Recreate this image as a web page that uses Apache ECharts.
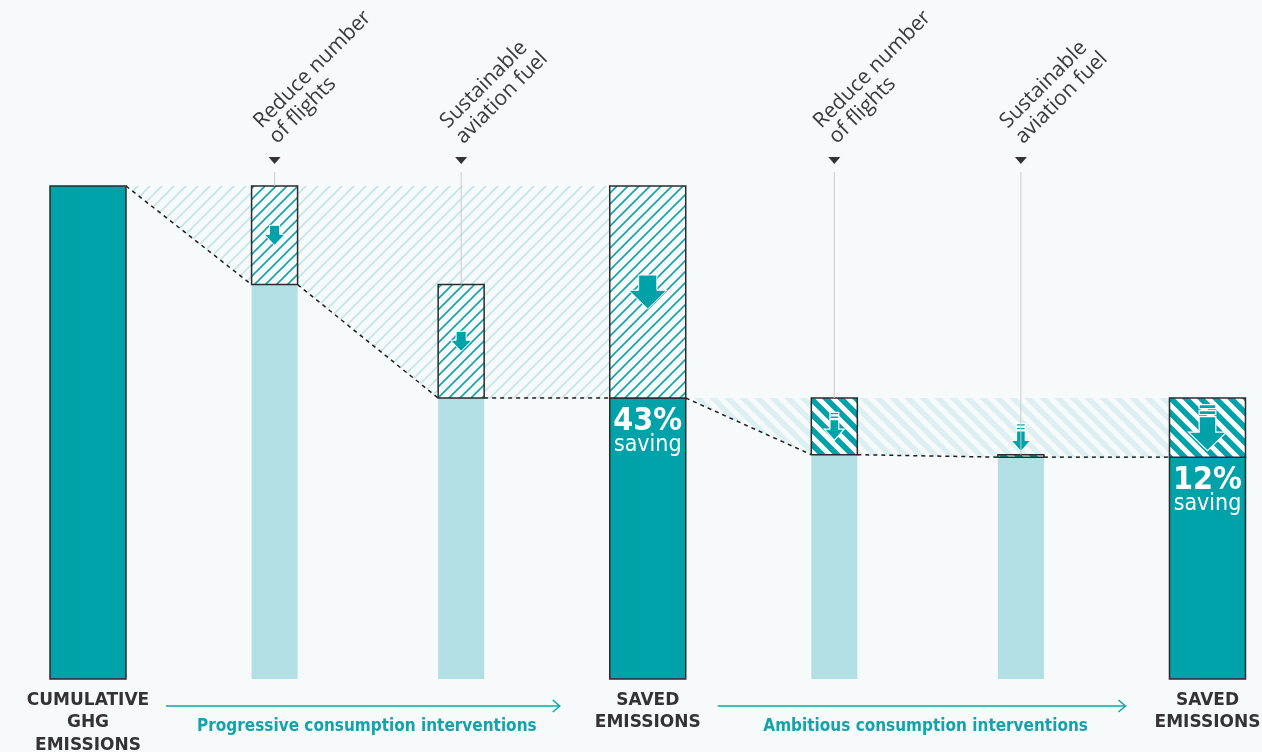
<!DOCTYPE html>
<html>
<head>
<meta charset="utf-8">
<script src="https://cdn.jsdelivr.net/npm/echarts@6/dist/echarts.min.js"></script>
<style>
html,body{margin:0;padding:0;background:#f6fafb;}
#chart{width:1262px;height:752px;}
</style>
</head>
<body>
<div id="chart"></div>
<script>
// ---------------- data ----------------
const bottomLabels = ['CUMULATIVE\nGHG\nEMISSIONS', '', '', 'SAVED\nEMISSIONS', '', '', 'SAVED\nEMISSIONS'];
const topLabels = ['', 'Reduce number\nof flights', 'Sustainable\naviation fuel', '', 'Reduce number\nof flights', 'Sustainable\naviation fuel', ''];
const remaining = [100, 80, 57, 57, 45.5, 45, 45];   // emissions left after each step
const before    = [100, 100, 80, 100, 57, 45.5, 57]; // emissions before each step
const barKinds  = ['total', 'step', 'step', 'total', 'step', 'step', 'total'];
const phaseOf   = [0, 1, 1, 1, 2, 2, 2];
const savingLabels = ['', '', '', '43%', '', '', '12%'];
const savingWord = 'saving';
const phaseLabels = ['Progressive consumption interventions', 'Ambitious consumption interventions'];
const phaseFrom = [0, 3];
const phaseTo   = [3, 6];

// ---------------- styles ----------------
const DARK = '#00a2aa', LIGHT = '#b1dfe3', BORDER = '#2b2b2b', BG = '#f6fafb';
const TEAL_TEXT = '#14a3ab', INK = '#333333';
const HALF = { total: 38, step: 23 };

function makePattern(size, dir, bg, stroke, lw) {
  const c = document.createElement('canvas');
  c.width = size; c.height = size;
  const g = c.getContext('2d');
  if (bg) { g.fillStyle = bg; g.fillRect(0, 0, size, size); }
  g.strokeStyle = stroke; g.lineWidth = lw;
  g.beginPath();
  for (let m = -1; m <= 2; m++) {
    const C = m * size;
    if (dir === '/') { g.moveTo(C + size, -size); g.lineTo(-size, C + size); }
    else { g.moveTo(-size, -size + C); g.lineTo(2 * size, 2 * size + C); }
  }
  g.stroke();
  return { image: c, repeat: 'repeat' };
}
const boxPattern = {
  1: makePattern(11, '/', BG, '#16a3aa', 1.6),
  2: makePattern(15, '\\', DARK, '#ffffff', 5)
};
const regionPattern = {
  0: makePattern(12, '/', null, '#c3e5e8', 1.6),
  1: makePattern(15, '\\', null, '#dcf0f2', 5.5)
};

function solidArrow(cx, top, w, h) {
  const sw = w * 0.24, hy = top + h * 0.45;
  return { type: 'polygon', shape: { points: [[cx - sw, top], [cx + sw, top], [cx + sw, hy], [cx + w / 2, hy], [cx, top + h], [cx - w / 2, hy], [cx - sw, hy]] },
    style: { fill: DARK, stroke: '#ffffff', lineWidth: 1 } };
}
function barredArrow(cx, top, w, h) {
  const sw = w * 0.22, hy = top + h * 0.6;
  const st = { fill: DARK, stroke: '#ffffff', lineWidth: 1.2 };
  return [
    { type: 'rect', shape: { x: cx - sw, y: top, width: 2 * sw, height: h * 0.09 }, style: st },
    { type: 'rect', shape: { x: cx - sw, y: top + h * 0.13, width: 2 * sw, height: h * 0.09 }, style: st },
    { type: 'polygon', shape: { points: [[cx - sw, top + h * 0.26], [cx + sw, top + h * 0.26], [cx + sw, hy], [cx + w / 2, hy], [cx, top + h], [cx - w / 2, hy], [cx - sw, hy]] }, style: st }
  ];
}

const chart = echarts.init(document.getElementById('chart'), null, { renderer: 'canvas' });

const xScale = 186.58, firstCenter = 88, W = 1262;
const xMin = -firstCenter / xScale, xMax = xMin + W / xScale;

function edges(api, i) {
  const cx = api.coord([i, 0])[0];
  const h = HALF[barKinds[i]];
  return { L: cx - h, R: cx + h, cx: cx };
}
function yOf(api, v) { return api.coord([0, v])[1]; }

// phase hatched regions + dashed connectors
function renderRegions(params, api) {
  const k = api.value(0);
  const s = phaseFrom[k], e = phaseTo[k];
  const ceiling = remaining[s];
  const pts = [[edges(api, s).R, yOf(api, ceiling)]];
  for (let j = s + 1; j < e; j++) {
    pts.push([edges(api, j).L, yOf(api, remaining[j])]);
    pts.push([edges(api, j).R, yOf(api, remaining[j])]);
  }
  pts.push([edges(api, e).L, yOf(api, remaining[e])]);
  pts.push([edges(api, e).L, yOf(api, ceiling)]);
  const children = [{ type: 'polygon', shape: { points: pts }, style: { fill: regionPattern[k], stroke: null } }];
  for (let j = s; j < e; j++) {
    children.push({ type: 'line', shape: { x1: edges(api, j).R, y1: yOf(api, remaining[j]), x2: edges(api, j + 1).L, y2: yOf(api, remaining[j + 1]) },
      style: { stroke: '#1e1e1e', lineWidth: 1.5, lineDash: [4, 4] } });
  }
  return { type: 'group', children: children };
}

function renderBars(params, api) {
  const i = api.value(0), rem = api.value(1), bef = api.value(2);
  const kind = barKinds[i];
  const e = edges(api, i);
  const y0 = yOf(api, 0), yR = yOf(api, rem), yB = yOf(api, bef);
  const children = [];
  children.push({ type: 'rect', shape: { x: e.L, y: yR, width: e.R - e.L, height: y0 - yR },
    style: kind === 'total' ? { fill: DARK, stroke: BORDER, lineWidth: 1.5 } : { fill: LIGHT, stroke: null } });
  if (bef > rem) {
    const ph = phaseOf[i];
    children.push({ type: 'rect', shape: { x: e.L, y: yB, width: e.R - e.L, height: yR - yB },
      style: { fill: boxPattern[ph], stroke: BORDER, lineWidth: 1.5 } });
    const boxH = yR - yB, mid = (yR + yB) / 2;
    if (ph === 1) {
      const w = kind === 'total' ? 38 : 21, h = kind === 'total' ? 34 : 20;
      children.push(solidArrow(e.cx, mid - h / 2, w, h));
    } else {
      const w = kind === 'total' ? 38 : 20, h = kind === 'total' ? 46 : 28;
      const top = boxH > h + 4 ? mid - h / 2 : yB - 3 - h;
      barredArrow(e.cx, top, w, h).forEach(c => children.push(c));
    }
  }
  if (savingLabels[i]) {
    children.push({ type: 'text', x: e.cx, y: yR + 24, style: { text: savingLabels[i], fill: '#ffffff', font: 'bold 32px "DejaVu Sans Condensed", "DejaVu Sans"', align: 'center', verticalAlign: 'middle' } });
    children.push({ type: 'text', x: e.cx, y: yR + 47, style: { text: savingWord, fill: '#ffffff', font: '500 23px "DejaVu Sans Condensed", "DejaVu Sans"', align: 'center', verticalAlign: 'middle' } });
  }
  return { type: 'group', children: children };
}

function renderLabels(params, api) {
  const i = api.value(0);
  const e = edges(api, i);
  const y0 = yOf(api, 0), yTop = yOf(api, 100), yB = yOf(api, before[i]);
  const children = [];
  if (topLabels[i]) {
    children.push({ type: 'line', shape: { x1: e.cx, y1: yTop - 14, x2: e.cx, y2: yB }, style: { stroke: '#c9cccd', lineWidth: 1 } });
    children.push({ type: 'polygon', shape: { points: [[e.cx - 6, yTop - 29], [e.cx + 6, yTop - 29], [e.cx, yTop - 22]] }, style: { fill: INK } });
    children.push({ type: 'text', x: e.cx + 6, y: yTop - 38, rotation: Math.PI / 4,
      style: { text: topLabels[i], fill: '#3a3a3a', font: '21px "Open Sans"', lineHeight: 22, align: 'left', verticalAlign: 'bottom' } });
  }
  if (bottomLabels[i]) {
    children.push({ type: 'text', x: e.cx, y: y0 + 10,
      style: { text: bottomLabels[i], fill: INK, font: 'bold 17px "DejaVu Sans"', lineHeight: 22.5, align: 'center', verticalAlign: 'top' } });
  }
  return { type: 'group', children: children };
}

function renderPhases(params, api) {
  const k = api.value(0);
  const y0 = yOf(api, 0);
  const x1 = edges(api, phaseFrom[k]).R + (k === 0 ? 40 : 32);
  const x2 = edges(api, phaseTo[k]).L - (k === 0 ? 50 : 44);
  const ya = y0 + 27;
  return { type: 'group', children: [
    { type: 'line', shape: { x1: x1, y1: ya, x2: x2, y2: ya }, style: { stroke: TEAL_TEXT, lineWidth: 1.5 } },
    { type: 'polyline', shape: { points: [[x2 - 7, ya - 6], [x2, ya], [x2 - 7, ya + 6]] }, style: { stroke: TEAL_TEXT, lineWidth: 1.5, fill: null } },
    { type: 'text', x: (x1 + x2) / 2 + 4, y: y0 + 48, style: { text: phaseLabels[k], fill: TEAL_TEXT, font: 'bold 17px "DejaVu Sans Condensed", "DejaVu Sans"', align: 'center', verticalAlign: 'middle' } }
  ] };
}

const idx = remaining.map((v, i) => i);

chart.setOption({
  backgroundColor: BG,
  animation: false,
  grid: { left: 0, right: 0, top: 186, bottom: 73 },
  xAxis: { type: 'value', min: xMin, max: xMax, show: false },
  yAxis: { type: 'value', min: 0, max: 100, show: false },
  series: [
    { type: 'custom', name: 'regions', renderItem: renderRegions, data: phaseLabels.map((p, k) => [k]), z: 1, silent: true },
    { type: 'custom', name: 'bars', renderItem: renderBars, data: idx.map(i => [i, remaining[i], before[i]]), z: 2, silent: true },
    { type: 'custom', name: 'labels', renderItem: renderLabels, data: idx.map(i => [i]), z: 3, silent: true },
    { type: 'custom', name: 'phases', renderItem: renderPhases, data: phaseLabels.map((p, k) => [k]), z: 3, silent: true }
  ]
});
</script>
</body>
</html>
